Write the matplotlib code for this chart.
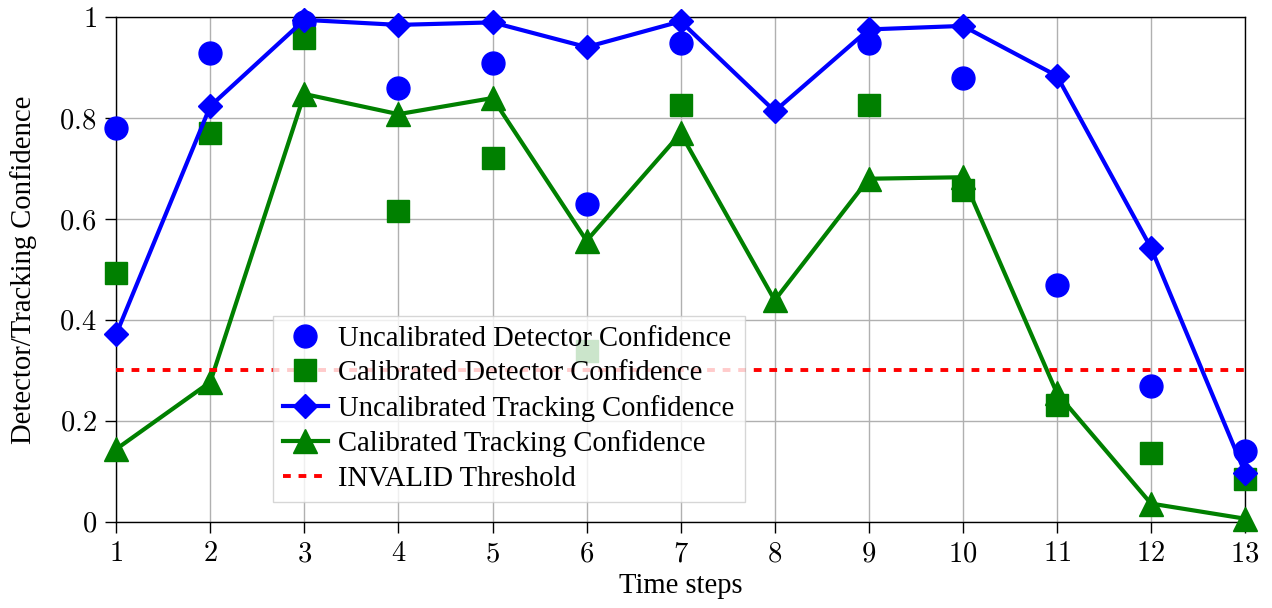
import numpy as np
import matplotlib
matplotlib.use("Agg")
import matplotlib.pyplot as plt
from matplotlib.ticker import FuncFormatter

# data (nan = no detection at that step)
time_steps = np.arange(1, 14)
uncal_det = [0.78, 0.93, 0.99, 0.86, 0.91, 0.63, 0.95, np.nan, 0.95, 0.88, 0.47, 0.27, 0.14]
cal_det = [0.494, 0.77, 0.96, 0.616, 0.722, 0.338, 0.826, np.nan, 0.826, 0.657, 0.231, 0.137, 0.085]
uncal_trk = [0.372, 0.824, 0.995, 0.985, 0.990, 0.941, 0.992, 0.814, 0.976, 0.983, 0.884, 0.543, 0.097]
cal_trk = [0.144, 0.277, 0.848, 0.808, 0.840, 0.557, 0.770, 0.439, 0.680, 0.683, 0.255, 0.036, 0.006]
threshold = 0.3

plt.rcParams['font.family'] = ['Liberation Serif', 'DejaVu Serif']
plt.rcParams['mathtext.fontset'] = 'cm'
fs = 20.6

fig = plt.figure(figsize=(12.72, 6.08), dpi=100)
ax = fig.add_axes([0.0914, 0.1419, 0.9788 - 0.0914, 0.9715 - 0.1419])

ax.plot(time_steps, uncal_det, marker='o', color='blue', ms=16.5, ls='none',
        clip_on=False, label='Uncalibrated Detector Confidence', zorder=3)
ax.plot(time_steps, cal_det, marker='s', color='green', ms=16, ls='none',
        clip_on=False, label='Calibrated Detector Confidence', zorder=3)
ax.plot(time_steps, uncal_trk, marker='D', color='blue', ms=12.5, ls='-', lw=3,
        clip_on=False, label='Uncalibrated Tracking Confidence', zorder=4)
ax.plot(time_steps, cal_trk, marker='^', color='green', ms=17, ls='-', lw=3,
        clip_on=False, label='Calibrated Tracking Confidence', zorder=4)
ax.axhline(threshold, color='red', lw=2.8, ls=(0, (2.0, 2.0)),
           label='INVALID Threshold', zorder=5)

ax.set_xlim(1, 13)
ax.set_ylim(0, 1)
ax.set_xticks(time_steps)
ax.set_yticks([0, 0.2, 0.4, 0.6, 0.8, 1.0])
fmt = FuncFormatter(lambda v, p: f'${v:g}$')
ax.xaxis.set_major_formatter(fmt)
ax.yaxis.set_major_formatter(fmt)
ax.tick_params(direction='out', length=8, width=1, labelsize=fs, pad=6)
ax.grid(True, color='#b0b0b0', lw=1)
ax.set_axisbelow(True)
for s in ax.spines.values():
    s.set_linewidth(1)

ax.set_xlabel('Time steps', fontsize=fs, labelpad=4)
ax.set_ylabel('Detector/Tracking Confidence', fontsize=fs, labelpad=16)

leg = ax.legend(loc='lower left', bbox_to_anchor=(0.1385, 0.039), borderaxespad=0,
                fontsize=fs, framealpha=0.8, fancybox=False, edgecolor='#cccccc',
                labelspacing=0.3, handlelength=1.6, handletextpad=0.35,
                borderpad=0.35)
leg.set_zorder(6)

fig.savefig('out.png', dpi=100)
